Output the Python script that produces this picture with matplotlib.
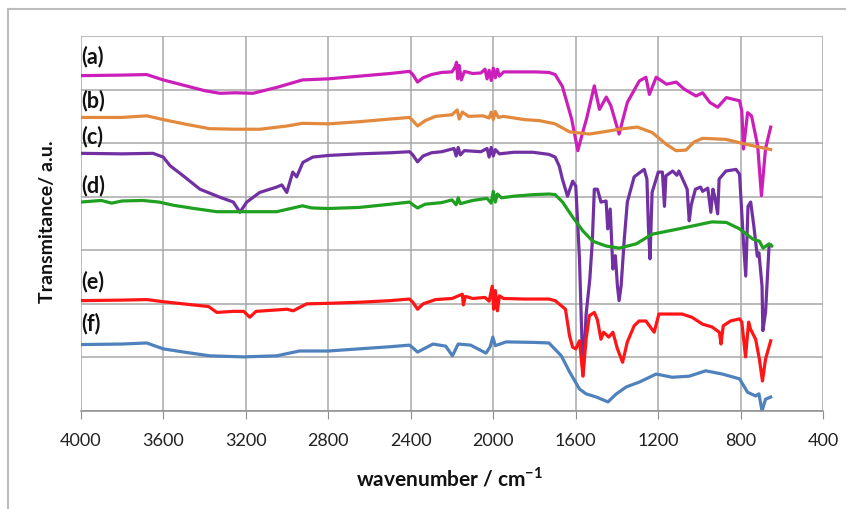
import matplotlib
matplotlib.use("Agg")
import matplotlib.pyplot as plt
from matplotlib.lines import Line2D

plt.rcParams['font.family'] = ['Lato', 'DejaVu Sans']
plt.rcParams['mathtext.fontset'] = 'custom'
plt.rcParams['mathtext.bf'] = 'Lato:bold'
plt.rcParams['mathtext.rm'] = 'Lato'

# FTIR spectra, stacked with offsets (grid units)
a_wn = [4000, 3800, 3680, 3600, 3500, 3400, 3325, 3250, 3165, 3050, 2925, 2800, 2650, 2500,
        2406, 2390, 2367, 2340, 2300, 2250, 2200, 2185, 2178, 2172, 2165, 2155, 2140, 2100,
        2060, 2040, 2030, 2020, 2010, 2000, 1990, 1980, 1970, 1950, 1900, 1800, 1730, 1700,
        1665, 1620, 1590, 1570, 1548, 1510, 1485, 1452, 1430, 1390, 1350, 1292, 1260, 1243,
        1210, 1160, 1113, 1075, 1017, 985, 950, 912, 870, 806, 795, 787, 767, 748, 718, 700,
        680, 655]
a_t = [6.26, 6.27, 6.28, 6.18, 6.08, 5.98, 5.93, 5.94, 5.93, 6.04, 6.18, 6.20, 6.25, 6.30,
       6.34, 6.28, 6.14, 6.22, 6.28, 6.32, 6.33, 6.42, 6.51, 6.20, 6.45, 6.18, 6.34, 6.30,
       6.31, 6.38, 6.20, 6.36, 6.17, 6.40, 6.22, 6.38, 6.25, 6.33, 6.33, 6.33, 6.32, 6.28,
       6.06, 5.45, 4.86, 5.15, 5.45, 6.07, 5.63, 5.86, 5.70, 5.17, 5.76, 6.16, 6.23, 5.91,
       6.23, 6.10, 6.14, 6.01, 5.88, 5.94, 5.76, 5.67, 5.85, 5.79, 5.60, 4.89, 5.57, 5.51,
       4.95, 4.02, 4.90, 5.30]

b_wn = [4000, 3800, 3680, 3600, 3500, 3375, 3250, 3130, 3000, 2925, 2800, 2650, 2500, 2406,
        2390, 2367, 2330, 2280, 2200, 2175, 2165, 2150, 2120, 2050, 2020, 2010, 2000, 1990,
        1975, 1950, 1850, 1776, 1700, 1630, 1534, 1450, 1390, 1302, 1230, 1162, 1114, 1066,
        1027, 985, 872, 775, 655]
b_t = [5.48, 5.48, 5.51, 5.44, 5.36, 5.27, 5.26, 5.26, 5.32, 5.37, 5.36, 5.40, 5.45, 5.48,
       5.42, 5.32, 5.42, 5.50, 5.53, 5.62, 5.45, 5.58, 5.50, 5.51, 5.47, 5.58, 5.44, 5.59,
       5.48, 5.50, 5.44, 5.42, 5.36, 5.21, 5.17, 5.22, 5.26, 5.30, 5.20, 4.98, 4.86, 4.87,
       5.02, 5.09, 5.07, 4.98, 4.88]

c_wn = [4000, 3800, 3650, 3600, 3567, 3503, 3422, 3325, 3260, 3228, 3195, 3132, 3050, 3025,
        3001, 2972, 2953, 2923, 2875, 2800, 2650, 2500, 2406, 2390, 2367, 2340, 2300, 2250,
        2190, 2180, 2170, 2160, 2140, 2060, 2030, 2020, 2010, 2000, 1990, 1970, 1900, 1808,
        1730, 1700, 1680, 1665, 1640, 1615, 1600, 1582, 1565, 1550, 1532, 1520, 1510, 1495,
        1478, 1453, 1445, 1433, 1420, 1408, 1398, 1390, 1380, 1365, 1350, 1317, 1290, 1268,
        1255, 1248, 1240, 1230, 1200, 1180, 1170, 1163, 1130, 1110, 1100, 1075, 1060, 1050,
        1040, 1020, 995, 985, 960, 945, 935, 925, 912, 905, 872, 823, 806, 787, 776, 765,
        752, 737, 720, 712, 697, 693, 680, 663, 655]
c_t = [4.81, 4.80, 4.81, 4.74, 4.58, 4.39, 4.14, 3.99, 3.90, 3.71, 3.90, 4.08, 4.18, 4.22,
       4.08, 4.46, 4.37, 4.64, 4.74, 4.77, 4.80, 4.82, 4.84, 4.78, 4.65, 4.76, 4.82, 4.84,
       4.90, 4.76, 4.92, 4.78, 4.86, 4.84, 4.90, 4.74, 4.92, 4.76, 4.88, 4.80, 4.83, 4.83,
       4.79, 4.74, 4.57, 4.33, 4.01, 4.29, 4.20, 2.84, 0.66, 1.80, 2.46, 3.15, 4.14, 4.14,
       3.90, 3.92, 3.40, 3.77, 2.65, 2.90, 2.33, 2.06, 2.34, 3.20, 3.90, 4.37, 4.45, 4.51,
       4.33, 3.46, 2.84, 4.08, 4.46, 4.46, 3.82, 4.39, 4.48, 4.40, 4.48, 4.27, 4.14, 3.55,
       3.85, 4.14, 4.18, 4.10, 4.16, 3.71, 4.14, 3.98, 3.68, 4.33, 4.48, 4.51, 4.42, 3.15,
       2.52, 3.82, 3.90, 3.46, 2.89, 2.95, 2.33, 1.50, 1.84, 3.08, 3.10]

d_wn = [4000, 3900, 3850, 3800, 3700, 3620, 3550, 3450, 3340, 3200, 3050, 2925, 2880, 2800,
        2650, 2500, 2406, 2390, 2367, 2330, 2250, 2200, 2180, 2170, 2160, 2100, 2030, 2010,
        2000, 1990, 1980, 1960, 1900, 1800, 1730, 1700, 1664, 1615, 1565, 1518, 1453, 1390,
        1307, 1230, 1100, 940, 870, 806, 742, 710, 692, 663, 650]
d_t = [3.90, 3.93, 3.88, 3.92, 3.93, 3.90, 3.84, 3.78, 3.72, 3.72, 3.72, 3.83, 3.79, 3.78,
       3.80, 3.86, 3.90, 3.85, 3.79, 3.86, 3.89, 3.94, 3.85, 3.98, 3.87, 3.93, 3.97, 3.88,
       4.10, 3.90, 4.05, 3.98, 4.01, 4.04, 4.05, 4.04, 3.90, 3.62, 3.36, 3.17, 3.08, 3.04,
       3.12, 3.30, 3.40, 3.53, 3.52, 3.40, 3.21, 3.17, 3.04, 3.12, 3.08]

e_wn = [4000, 3800, 3680, 3600, 3455, 3380, 3340, 3260, 3210, 3180, 3150, 3000, 2970, 2905,
        2800, 2650, 2500, 2406, 2390, 2367, 2340, 2280, 2200, 2150, 2145, 2135, 2100, 2040,
        2020, 2005, 1998, 1990, 1980, 1970, 1950, 1850, 1730, 1700, 1650, 1630, 1615, 1600,
        1582, 1565, 1550, 1534, 1510, 1495, 1478, 1465, 1440, 1420, 1398, 1373, 1350, 1317,
        1293, 1260, 1220, 1197, 1134, 1085, 1037, 985, 940, 904, 896, 885, 850, 806, 795,
        777, 762, 753, 728, 710, 695, 680, 655]
e_t = [2.06, 2.07, 2.08, 2.04, 1.98, 1.95, 1.84, 1.86, 1.86, 1.75, 1.86, 1.90, 1.87, 2.00,
       2.01, 2.03, 2.06, 2.09, 2.03, 1.90, 2.00, 2.08, 2.10, 2.18, 1.98, 2.14, 2.10, 2.12,
       2.05, 2.33, 1.90, 2.25, 1.87, 2.15, 2.10, 2.09, 2.09, 2.06, 1.90, 1.40, 1.19, 1.16,
       1.31, 0.65, 1.34, 1.78, 1.84, 1.70, 1.34, 1.47, 1.38, 1.47, 1.16, 0.91, 1.29, 1.59,
       1.68, 1.68, 1.47, 1.81, 1.81, 1.81, 1.75, 1.62, 1.57, 1.47, 1.25, 1.59, 1.68, 1.72,
       1.66, 1.01, 1.66, 1.53, 1.34, 0.97, 0.56, 0.97, 1.31]

f_wn = [4000, 3800, 3680, 3600, 3500, 3375, 3210, 3050, 2940, 2800, 2650, 2500, 2406, 2390,
        2367, 2292, 2230, 2198, 2170, 2110, 2035, 2015, 2002, 1990, 1937, 1800, 1730, 1670,
        1630, 1582, 1550, 1500, 1444, 1403, 1355, 1292, 1210, 1133, 1050, 970, 890, 806,
        767, 728, 712, 697, 680, 655]
f_t = [1.24, 1.25, 1.27, 1.16, 1.10, 1.03, 1.01, 1.03, 1.12, 1.12, 1.16, 1.20, 1.23, 1.18,
       1.10, 1.25, 1.21, 1.03, 1.25, 1.23, 1.08, 1.20, 1.38, 1.22, 1.29, 1.28, 1.27, 1.03,
       0.73, 0.41, 0.32, 0.26, 0.17, 0.32, 0.45, 0.54, 0.69, 0.63, 0.65, 0.75, 0.69, 0.60,
       0.35, 0.28, 0.32, 0.00, 0.22, 0.26]

series = [
    (a_wn, a_t, '#CC1FB9'),
    (b_wn, b_t, '#E3893D'),
    (c_wn, c_t, '#7231A3'),
    (d_wn, d_t, '#20A020'),
    (e_wn, e_t, '#FF1515'),
    (f_wn, f_t, '#4F81BD'),
]
labels = ['(a)', '(b)', '(c)', '(d)', '(e)', '(f)']
label_y = [6.63, 5.82, 5.15, 4.23, 2.43, 1.66]

W, H = 846, 510
fig = plt.figure(figsize=(W / 100, H / 100), dpi=100)

# outer chart frame
fig.add_artist(Line2D([8 / W, 8 / W], [0, 1 - 10 / H], color='#BDBDBD', lw=1.5))
fig.add_artist(Line2D([8 / W, 1], [1 - 10 / H, 1 - 10 / H], color='#BDBDBD', lw=1.5))

ax = fig.add_axes([80.7 / W, 98 / H, 742.6 / W, 375 / H])
for wn, t, col in series:
    ax.plot(wn, t, color=col, lw=2.3, solid_joinstyle='round')

ax.set_xlim(4000, 400)
ax.set_ylim(0, 7)
ax.set_xticks(range(4000, 399, -400))
ax.set_yticks(range(0, 8))
ax.set_yticklabels([])
ax.grid(True, color='#A8A8A8', lw=1.1)
ax.set_axisbelow(True)
for side in ['top', 'right', 'left']:
    ax.spines[side].set_visible(False)
ax.spines['bottom'].set_color('#8E8E8E')
ax.spines['bottom'].set_linewidth(1.1)
ax.tick_params(axis='y', length=0)
ax.tick_params(axis='x', length=6, color='#8E8E8E', labelsize=13, pad=9, labelcolor='#222222')

for lab, y in zip(labels, label_y):
    ax.text(3998, y, lab, fontsize=15.5, fontweight='bold', ha='left', va='center', color='#111111')

fig.text(48 / W, 1 - 222 / H, 'Transmitance/ a.u.', rotation=90, fontsize=14,
         fontweight='bold', ha='center', va='center', color='#111111')
fig.text(450 / W, 1 - 478 / H, r'wavenumber / cm$^{\mathbf{-1}}$', fontsize=15,
         fontweight='bold', ha='center', va='center', color='#111111')

fig.savefig('out.png', dpi=100)
